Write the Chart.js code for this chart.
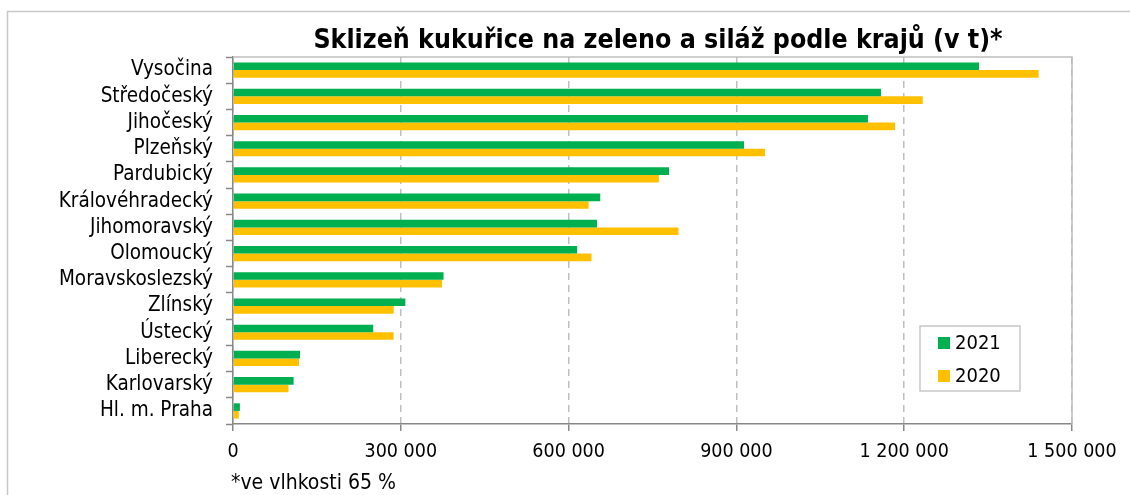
<!DOCTYPE html>
<html><head><meta charset="utf-8">
<script src="https://cdn.jsdelivr.net/npm/chart.js@4.4.0/dist/chart.umd.min.js"></script>
<style>html,body{margin:0;padding:0;background:#fff}#wrap{width:1130px;height:495px;position:relative;overflow:hidden}</style>
</head><body><div id="wrap"><canvas id="c" width="1130" height="495"></canvas></div>
<script>
const titleText = 'Sklizeň kukuřice na zeleno a siláž podle krajů (v t)*';
const footnoteText = '*ve vlhkosti 65 %';
const categories = ['Vysočina','Středočeský','Jihočeský','Plzeňský','Pardubický','Královéhradecký','Jihomoravský','Olomoucký','Moravskoslezský','Zlínský','Ústecký','Liberecký','Karlovarský','Hl. m. Praha'];
const seriesLabels = ['2021','2020'];
const values2021 = [1333700,1158500,1135200,913700,779600,656600,650700,615300,376400,308100,250700,119800,108400,12300];
const values2020 = [1440300,1233200,1183500,951100,761500,635800,796400,641000,373700,287300,287300,118000,99200,10400];
const xTickValues = [0,300000,600000,900000,1200000,1500000];

const FONT = '"DejaVu Sans Condensed", "DejaVu Sans", sans-serif';
const fmt = v => String(v).replace(/\B(?=(\d{3})+(?!\d))/g, ' ');

const framePlugin = {
  id: 'frame',
  beforeDraw(chart) {
    const ctx = chart.ctx;
    ctx.save();
    ctx.fillStyle = '#fff';
    ctx.fillRect(0, 0, chart.width, chart.height);
    ctx.strokeStyle = '#c8c8c8';
    ctx.lineWidth = 1.5;
    ctx.beginPath();
    ctx.moveTo(7.5, chart.height + 5);
    ctx.lineTo(7.5, 11.5);
    ctx.lineTo(chart.width + 5, 11.5);
    ctx.stroke();
    ctx.restore();
  },
  afterDraw(chart) {
    const ctx = chart.ctx, a = chart.chartArea;
    ctx.save();
    ctx.strokeStyle = '#bfbfbf';
    ctx.lineWidth = 1.5;
    ctx.beginPath();
    ctx.moveTo(a.left, a.top);
    ctx.lineTo(a.right, a.top);
    ctx.lineTo(a.right, a.bottom);
    ctx.stroke();
    // title
    ctx.fillStyle = '#000';
    ctx.font = 'bold 26.5px ' + FONT;
    ctx.textAlign = 'center';
    ctx.textBaseline = 'middle';
    ctx.fillText(titleText, 658, 41);
    // footnote
    ctx.font = '21px ' + FONT;
    ctx.textAlign = 'left';
    ctx.fillText(footnoteText, 231, 484);
    // legend
    const bx = 920, by = 326, bw = 100, bh = 65;
    ctx.strokeStyle = '#c8c8c8';
    ctx.lineWidth = 1.5;
    ctx.strokeRect(bx, by, bw, bh);
    chart.data.datasets.forEach((ds, i) => {
      const y = 343 + i * 33;
      ctx.fillStyle = ds.backgroundColor;
      ctx.fillRect(938, y - 6, 12, 12);
      ctx.fillStyle = '#000';
      ctx.font = '20px ' + FONT;
      ctx.textBaseline = 'middle';
      ctx.fillText(ds.label, 955, y + 1);
    });
    ctx.restore();
  }
};

new Chart(document.getElementById('c'), {
  type: 'bar',
  data: {
    labels: categories,
    datasets: [
      { label: seriesLabels[0], data: values2021, backgroundColor: '#00B050', categoryPercentage: 0.58, barPercentage: 1.0 },
      { label: seriesLabels[1], data: values2020, backgroundColor: '#FFC000', categoryPercentage: 0.58, barPercentage: 1.0 }
    ]
  },
  options: {
    indexAxis: 'y',
    responsive: false,
    animation: false,
    devicePixelRatio: 1,
    layout: { padding: { top: 57, right: 58, left: 0, bottom: 0 } },
    plugins: { legend: { display: false }, title: { display: false }, tooltip: { enabled: false } },
    scales: {
      x: {
        min: 0, max: 1500000,
        afterBuildTicks: s => { s.ticks = xTickValues.map(v => ({ value: v })); },
        afterFit: s => { s.height = 71; },
        ticks: { callback: v => fmt(v), color: '#000', font: { family: FONT, size: 19.5 }, padding: 9, maxRotation: 0, autoSkip: false },
        grid: { color: '#bfbfbf', lineWidth: 1.5, drawTicks: true, tickLength: 7, tickColor: '#888', tickWidth: 1.5 },
        border: { color: '#888', width: 1.5, dash: [7, 5] }
      },
      y: {
        afterFit: s => { s.width = 233; },
        ticks: { color: '#000', font: { family: FONT, size: 20.5 }, padding: 13, autoSkip: false },
        grid: { drawOnChartArea: false, drawTicks: true, tickLength: 7, tickColor: '#888', tickWidth: 1.5, offset: true },
        border: { color: '#888', width: 1.5 }
      }
    }
  },
  plugins: [framePlugin]
});
</script>
</body></html>
